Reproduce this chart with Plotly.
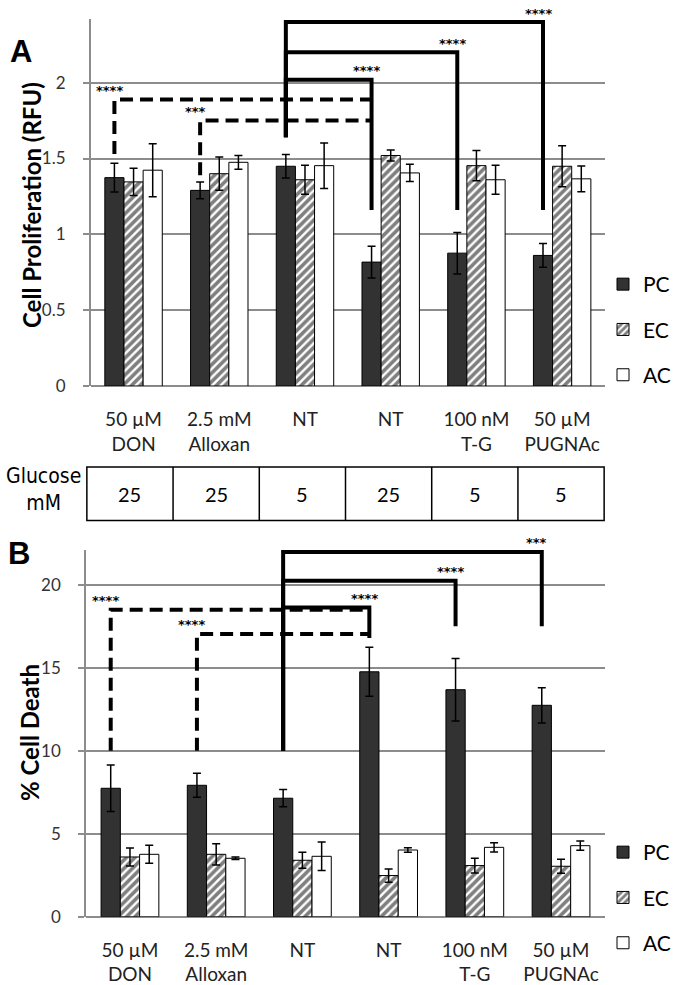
import plotly.graph_objects as go

# ---------------- data ----------------
categories = ["50 µM<br>DON", "2.5 mM<br>Alloxan", "NT", "NT", "100 nM<br>T-G", "50 µM<br>PUGNAc"]
glucose_mM = ["25", "25", "5", "25", "5", "5"]
series_names = ["PC", "EC", "AC"]

# Panel A: Cell proliferation (RFU)
prolif_pc = [1.374, 1.29, 1.449, 0.817, 0.876, 0.861]
prolif_pc_err = [0.095, 0.055, 0.078, 0.105, 0.137, 0.078]
prolif_ec = [1.346, 1.40, 1.36, 1.52, 1.453, 1.449]
prolif_ec_err = [0.09, 0.11, 0.095, 0.037, 0.10, 0.135]
prolif_ac = [1.423, 1.475, 1.453, 1.405, 1.36, 1.366]
prolif_ac_err = [0.175, 0.045, 0.15, 0.057, 0.095, 0.085]

# Panel B: % cell death
death_pc = [7.74, 7.92, 7.14, 14.76, 13.68, 12.74]
death_pc_err = [1.4, 0.72, 0.52, 1.48, 1.88, 1.06]
death_ec = [3.6, 3.76, 3.4, 2.48, 3.08, 3.04]
death_ec_err = [0.54, 0.64, 0.48, 0.4, 0.44, 0.42]
death_ac = [3.76, 3.52, 3.64, 4.02, 4.18, 4.28]
death_ac_err = [0.54, 0.08, 0.86, 0.14, 0.28, 0.28]

# significance brackets: (from_cat, to_cat, bar_level, left_end, right_end, dashed, label)
brackets_a = [
    (0, 3, 1.889, 1.53, None, True, "****"),
    (1, 3, 1.75, 1.39, None, True, "***"),
    (2, 3, 2.02, 1.64, 1.16, False, "****"),
    (2, 4, 2.20, 1.64, 1.16, False, "****"),
    (2, 5, 2.40, 1.64, 1.16, False, "****"),
]
brackets_b = [
    (0, 3, 18.5, 10.0, None, True, "****"),
    (1, 3, 17.04, 10.0, None, True, "****"),
    (2, 3, 18.64, 10.0, 16.8, False, "****"),
    (2, 4, 20.24, 10.0, 17.5, False, "****"),
    (2, 5, 21.98, 10.0, 17.5, False, "***"),
]

# ---------------- styling ----------------
W, H = 683, 985
BARGAP = 0.33
FONT = "Lato, Carlito, Calibri, sans-serif"
GRID = "#8c8c8c"
PC_COLOR = "#323232"

xpos = list(range(len(categories)))
bar_w = (1 - BARGAP) / 3.0

fig = go.Figure()


def add_bars(xa, ya, legend, vals, errs):
    styles = [
        dict(color=PC_COLOR, line=dict(color="black", width=1)),
        dict(color="white", line=dict(color="black", width=1),
             pattern=dict(shape="/", fgcolor="black", bgcolor="white", size=6, solidity=0.6)),
        dict(color="white", line=dict(color="black", width=1)),
    ]
    for name, v, e, st in zip(series_names, vals, errs, styles):
        fig.add_trace(go.Bar(
            x=xpos, y=v, name=name, marker=st,
            error_y=dict(type="data", array=e, visible=True, color="black", thickness=1.5, width=4),
            xaxis=xa, yaxis=ya, legend=legend, legendgroup=legend + name,
        ))


add_bars("x", "y", "legend", [prolif_pc, prolif_ec, prolif_ac],
         [prolif_pc_err, prolif_ec_err, prolif_ac_err])
add_bars("x2", "y2", "legend2", [death_pc, death_ec, death_ac],
         [death_pc_err, death_ec_err, death_ac_err])

shapes = []
annotations = []


def add_brackets(brs, xr, yr):
    for (c0, c1, lvl, lend, rend, dashed, lab) in brs:
        x0 = c0 - bar_w
        x1 = c1 - bar_w
        if rend is None:
            path = f"M {x0},{lend} L {x0},{lvl} L {x1},{lvl}"
            lx = x0
        else:
            path = f"M {x0},{lend} L {x0},{lvl} L {x1},{lvl} L {x1},{rend}"
            lx = x1
        shapes.append(dict(type="path", path=path, xref=xr, yref=yr,
                           line=dict(color="black", width=4,
                                     dash="13px,7px" if dashed else "solid"),
                           layer="above"))
        annotations.append(dict(x=lx, y=lvl, xref=xr, yref=yr, text="<b>" + lab + "</b>",
                                showarrow=False, xshift=-5, yshift=9,
                                font=dict(family="DejaVu Sans", size=13, color="black"),
                                xanchor="center", yanchor="middle"))


add_brackets(brackets_a, "x", "y")
add_brackets(brackets_b, "x2", "y2")

# glucose table, aligned to the categories of panel B's axis
tbl_top, tbl_bot = 1 - 467 / H, 1 - 520.5 / H
shapes.append(dict(type="rect", xref="x2", yref="paper", x0=-0.5, x1=len(categories) - 0.5,
                   y0=tbl_bot, y1=tbl_top, line=dict(color="black", width=1.5)))
for i in range(len(categories) - 1):
    shapes.append(dict(type="line", xref="x2", yref="paper", x0=i + 0.5, x1=i + 0.5,
                       y0=tbl_bot, y1=tbl_top, line=dict(color="black", width=1.5)))
for i, g in enumerate(glucose_mM):
    annotations.append(dict(x=i, y=(tbl_top + tbl_bot) / 2, xref="x2", yref="paper", text=g,
                            showarrow=False, xanchor="center", yanchor="middle",
                            font=dict(family=FONT, size=20, color="black")))
annotations.append(dict(x=43 / W, y=1 - 490 / H, xref="paper", yref="paper", text="Glucose<br>mM",
                        showarrow=False, align="center", xanchor="center", yanchor="middle",
                        font=dict(family="Liberation Sans Narrow, DejaVu Sans Condensed, Liberation Sans",
                                  size=21, color="black")))

# panel letters and axis titles
annotations.append(dict(x=21 / W, y=1 - 52 / H, xref="paper", yref="paper", text="<b>A</b>",
                        showarrow=False, xanchor="center", yanchor="middle",
                        font=dict(family="Liberation Sans", size=31, color="black")))
annotations.append(dict(x=19 / W, y=1 - 553 / H, xref="paper", yref="paper", text="<b>B</b>",
                        showarrow=False, xanchor="center", yanchor="middle",
                        font=dict(family="Liberation Sans", size=31, color="black")))
annotations.append(dict(x=31 / W, y=1 - 205 / H, xref="paper", yref="paper",
                        text="<b>Cell Proliferation (RFU)</b>", textangle=-90, showarrow=False,
                        xanchor="center", yanchor="middle",
                        font=dict(family=FONT, size=24, color="black")))
annotations.append(dict(x=29 / W, y=1 - 733 / H, xref="paper", yref="paper",
                        text="<b>% Cell Death</b>", textangle=-90, showarrow=False,
                        xanchor="center", yanchor="middle",
                        font=dict(family=FONT, size=24, color="black")))

xa_common = dict(tickmode="array", tickvals=xpos, ticktext=categories, showgrid=False,
                 zeroline=False, showline=False, ticks="", ticklabelstandoff=20,
                 tickfont=dict(family=FONT, size=19, color="#222"))
ya_common = dict(showgrid=True, gridcolor=GRID, gridwidth=1.5, zeroline=True, zerolinecolor=GRID,
                 zerolinewidth=1.5, showline=True, linecolor=GRID, linewidth=1.5, ticks="outside",
                 ticklen=6, tickcolor=GRID, tickwidth=1.5, ticklabelstandoff=14,
                 tickfont=dict(family=FONT, size=17, color="#333"))

legend_common = dict(font=dict(family=FONT, size=21, color="black"), bgcolor="rgba(0,0,0,0)",
                     traceorder="grouped", tracegroupgap=15, xanchor="right", yanchor="top",
                     itemclick=False)

fig.update_layout(
    width=W, height=H, margin=dict(l=0, r=0, t=0, b=0, autoexpand=False),
    paper_bgcolor="white", plot_bgcolor="white",
    barmode="group", bargap=BARGAP, bargroupgap=0,
    xaxis=dict(domain=[90.7 / W, 605 / W], range=[-0.5, 5.5], anchor="y", **xa_common),
    yaxis=dict(domain=[1 - 386 / H, 1 - 19 / H], range=[0, 2.42], dtick=0.5, anchor="x",
               **ya_common),
    xaxis2=dict(domain=[86 / W, 605 / W], range=[-0.51, 5.51], anchor="y2", **xa_common),
    yaxis2=dict(domain=[1 - 916.7 / H, 1 - 550 / H], range=[0, 22.1], dtick=5, anchor="x2",
                **ya_common),
    legend=dict(x=1 - 7 / W, y=1 - 264 / H, **legend_common),
    legend2=dict(x=1 - 7 / W, y=1 - 832 / H, **legend_common),
    shapes=shapes, annotations=annotations,
)

# the page's default 8px body margin would shift the figure; remove it
fig.write_html("out.html", config={"displayModeBar": False},
               post_script="document.body.style.margin='0';")
